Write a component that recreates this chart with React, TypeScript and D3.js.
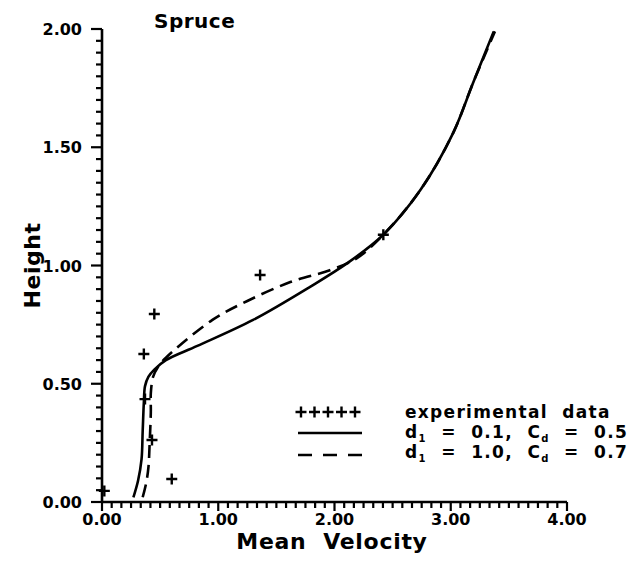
import React from "react";
import * as d3 from "d3";

const xTickLabels = ["0.00", "1.00", "2.00", "3.00", "4.00"];
const yTickLabels = ["0.00", "0.50", "1.00", "1.50", "2.00"];

const expVelocity = [0.02, 0.6, 0.43, 0.37, 0.36, 0.45, 1.36, 2.42];
const expHeight = [0.047, 0.097, 0.262, 0.435, 0.626, 0.795, 0.96, 1.13];

const solidVelocity = [0.27, 0.31, 0.34, 0.35, 0.36, 0.37, 0.40, 0.45, 0.55, 0.82, 1.30, 1.79, 2.11, 2.42, 2.74, 3.02, 3.19, 3.37];
const solidHeight = [0.02, 0.09, 0.18, 0.30, 0.42, 0.49, 0.53, 0.56, 0.60, 0.66, 0.77, 0.91, 1.01, 1.13, 1.32, 1.56, 1.77, 1.99];

const dashVelocity = [0.35, 0.38, 0.40, 0.41, 0.42, 0.42, 0.44, 0.48, 0.55, 0.95, 1.25, 1.62, 1.96, 2.19, 2.42, 2.74, 3.02, 3.19, 3.38];
const dashHeight = [0.02, 0.08, 0.15, 0.25, 0.38, 0.46, 0.53, 0.57, 0.61, 0.77, 0.85, 0.93, 0.98, 1.03, 1.13, 1.32, 1.56, 1.77, 1.99];

const FONT = "'DejaVu Sans', sans-serif";

function Plus({ x, y, s = 5.5 }: { x: number; y: number; s?: number }) {
  return (
    <path
      d={`M${x - s},${y}H${x + s}M${x},${y - s}V${y + s}`}
      stroke="#000"
      strokeWidth={2.4}
      fill="none"
    />
  );
}

export default function App() {
  const x = d3.scaleLinear().domain([0, 4]).range([102, 567]);
  const y = d3.scaleLinear().domain([0, 2]).range([502, 29]);

  const line = d3
    .line<[number, number]>()
    .x((d) => x(d[0]))
    .y((d) => y(d[1]))
    .curve(d3.curveCatmullRom.alpha(0.5));

  const solidPts = solidVelocity.map((v, i) => [v, solidHeight[i]] as [number, number]);
  const dashPts = dashVelocity.map((v, i) => [v, dashHeight[i]] as [number, number]);

  const xMinor = d3.range(0, 4 * 12 + 1).map((i) => i / 12);
  const yMinor = d3.range(0, 41).map((i) => i * 0.05);

  const legendY = [412, 433, 455];
  const legendTextY = [418, 438, 458];

  const sub = (t: string) => (
    <tspan fontSize={10} dy={4}>{t}</tspan>
  );

  const pre = { whiteSpace: "pre" as const };

  return (
    <svg
      width={640}
      height={563}
      style={{ position: "absolute", left: 0, top: 0, background: "#fff" }}
      fontFamily={FONT}
      fontWeight="bold"
    >
      <rect width={640} height={563} fill="#fff" />
      {/* axes */}
      <line x1={x(0)} x2={x(4)} y1={y(0)} y2={y(0)} stroke="#000" strokeWidth={2.6} />
      <line x1={x(0)} x2={x(0)} y1={y(0)} y2={y(2)} stroke="#000" strokeWidth={2.6} />
      {xMinor.map((v, i) => (
        <line
          key={"xm" + i}
          x1={x(v)}
          x2={x(v)}
          y1={y(0)}
          y2={y(0) + (i % 12 === 0 ? 9 : 6)}
          stroke="#000"
          strokeWidth={2.2}
        />
      ))}
      {yMinor.map((v, i) => (
        <line
          key={"ym" + i}
          x1={x(0) - (i % 10 === 0 ? 11 : 6)}
          x2={x(0)}
          y1={y(v)}
          y2={y(v)}
          stroke="#000"
          strokeWidth={2.2}
        />
      ))}
      {xTickLabels.map((t, i) => (
        <text key={"xl" + i} x={x(i)} y={525} textAnchor="middle" fontSize={16}>
          {t}
        </text>
      ))}
      {yTickLabels.map((t, i) => (
        <text key={"yl" + i} x={82} y={y(i * 0.5) + 6} textAnchor="end" fontSize={16}>
          {t}
        </text>
      ))}
      <text x={332} y={549} textAnchor="middle" fontSize={22} letterSpacing={0.7} style={pre}>
        {"Mean  Velocity"}
      </text>
      <text transform={`translate(40,${y(1)}) rotate(-90)`} textAnchor="middle" fontSize={22} letterSpacing={0.5}>
        Height
      </text>
      <text x={154} y={28} fontSize={20} letterSpacing={0.5}>
        Spruce
      </text>

      {/* curves */}
      <path d={line(solidPts) || ""} fill="none" stroke="#000" strokeWidth={2.6} />
      <path d={line(dashPts) || ""} fill="none" stroke="#000" strokeWidth={2.6} strokeDasharray="13 7" />

      {expVelocity.map((v, i) => (
        <Plus key={"p" + i} x={x(v)} y={y(expHeight[i])} />
      ))}

      {/* legend */}
      {[0, 1, 2, 3, 4].map((i) => (
        <Plus key={"lp" + i} x={301 + i * 13.5} y={legendY[0]} s={5.5} />
      ))}
      <line x1={298} x2={362} y1={legendY[1]} y2={legendY[1]} stroke="#000" strokeWidth={2.4} />
      <line x1={298} x2={362} y1={legendY[2]} y2={legendY[2]} stroke="#000" strokeWidth={2.4} strokeDasharray="14 11" />
      <text x={405} y={legendTextY[0]} fontSize={17} letterSpacing={1.3} style={pre}>
        {"experimental  data"}
      </text>
      <text x={405} y={legendTextY[1]} fontSize={17} letterSpacing={1.3} style={pre}>
        d{sub("1")}
        <tspan dy={-4}>{"  =  0.1,  C"}</tspan>
        {sub("d")}
        <tspan dy={-4}>{"  =  0.5"}</tspan>
      </text>
      <text x={405} y={legendTextY[2]} fontSize={17} letterSpacing={1.3} style={pre}>
        d{sub("1")}
        <tspan dy={-4}>{"  =  1.0,  C"}</tspan>
        {sub("d")}
        <tspan dy={-4}>{"  =  0.7"}</tspan>
      </text>
    </svg>
  );
}
